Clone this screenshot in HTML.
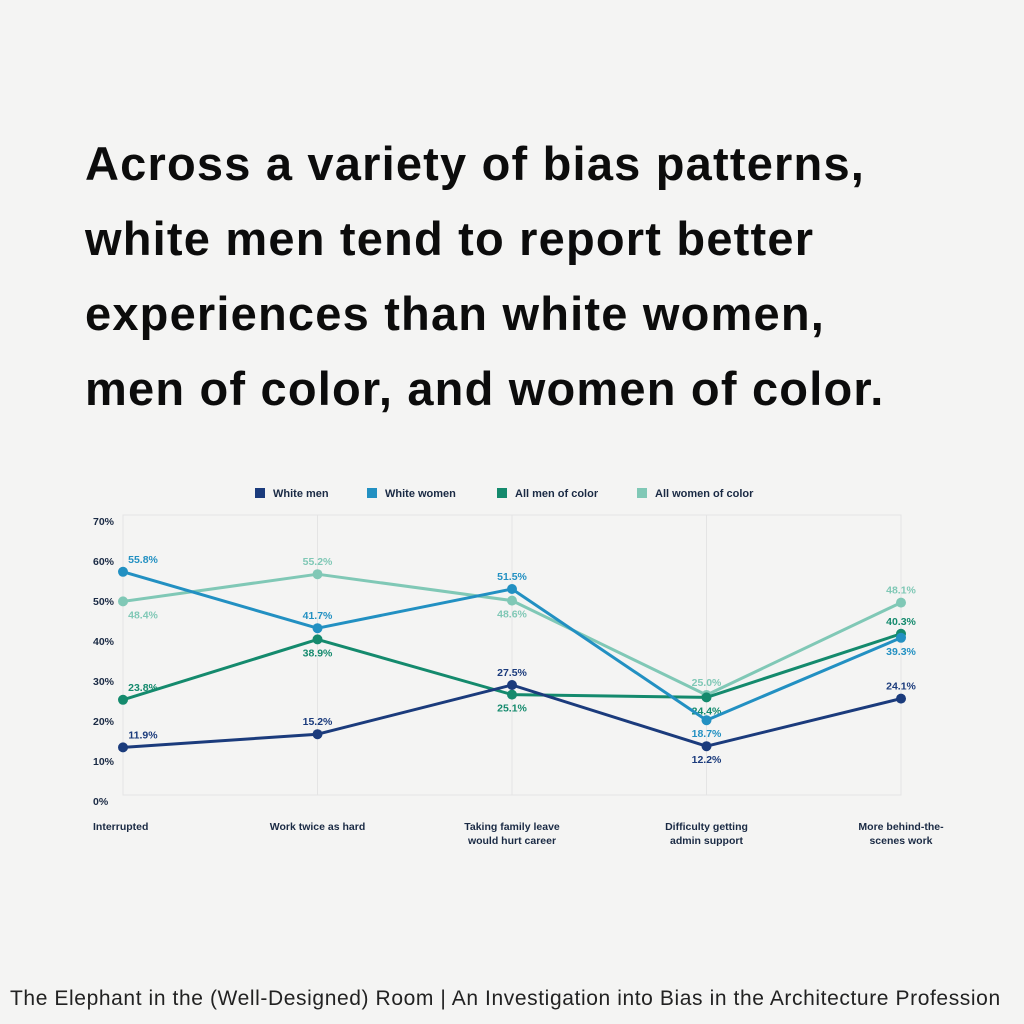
<!DOCTYPE html>
<html><head><meta charset="utf-8"><style>
body{margin:0;background:#f4f4f3;width:1024px;height:1024px;overflow:hidden;font-family:"Liberation Sans",sans-serif}
h1{position:absolute;left:85px;top:126px;margin:0;font-size:47px;line-height:75px;font-weight:bold;color:#0c0c0c;letter-spacing:1.2px}
.foot{position:absolute;left:10px;top:987px;font-size:21px;letter-spacing:0.6px;color:#222}
</style></head><body>
<h1>Across a variety of bias patterns,<br>white men tend to report better<br>experiences than white women,<br>men of color, and women of color.</h1>
<svg id="chart" width="1024" height="1024" style="position:absolute;left:0;top:0" font-family="Liberation Sans, sans-serif" font-weight="bold"></svg>
<div class="foot">The Elephant in the (Well-Designed) Room | An Investigation into Bias in the Architecture Profession</div>
<script>
const categories=[["Interrupted"],["Work twice as hard"],["Taking family leave","would hurt career"],["Difficulty getting","admin support"],["More behind-the-","scenes work"]];
const seriesNames=["White men","White women","All men of color","All women of color"];
const whiteMen=[11.9,15.2,27.5,12.2,24.1];
const whiteWomen=[55.8,41.7,51.5,18.7,39.3];
const menOfColor=[23.8,38.9,25.1,24.4,40.3];
const womenOfColor=[48.4,55.2,48.6,25.0,48.1];
const yTicks=[0,10,20,30,40,50,60,70];
const colors=["#1b3b7c","#2290c2","#148a6d","#80c8b6"];
const labelSide=[[-1,-1,-1,1,-1],[-1,-1,-1,1,1],[-1,1,1,1,-1],[1,-1,1,-1,-1]];
const svg=document.getElementById('chart');const NS="http://www.w3.org/2000/svg";
function el(t,a,p){const e=document.createElementNS(NS,t);for(const k in a)e.setAttribute(k,a[k]);(p||svg).appendChild(e);return e;}
const x0=123,x1=901,yB=795,yT=515;
const xs=i=>x0+i*(x1-x0)/(categories.length-1);
const ys=v=>yB-v*(yB-yT)/70;
const fr=el('rect',{x:x0,y:yT,width:x1-x0,height:yB-yT,fill:'none',stroke:'#e4e4e4'});


categories.forEach((c,i)=>{const g=el('line',{x1:xs(i),x2:xs(i),y1:yT,y2:yB,stroke:'#e4e4e4'});


const t=el('text',{x:i==0?x0-30:xs(i),y:830,'font-size':10.5,fill:'#1a2a44','text-anchor':i==0?'start':'middle'});


c.forEach((s,j)=>{const ts=el('tspan',{x:i==0?x0-30:xs(i),dy:j?14:0},t);ts.textContent=s;});});
yTicks.forEach(v=>{const t=el('text',{x:93,y:ys(v)+10,'font-size':10.5,fill:'#1a2a44'});


t.textContent=v+'%';});
const lx=[255,367,497,637];
seriesNames.forEach((n,i)=>{const r=el('rect',{x:lx[i],y:488,width:10,height:10,fill:colors[i]});


const t=el('text',{x:lx[i]+18,y:497,'font-size':11,fill:'#1a2a44'});


t.textContent=n;});
const data=[whiteMen,whiteWomen,menOfColor,womenOfColor];
const order=[3,2,1,0];
order.forEach(s=>{const d=data[s];
const pl=el('polyline',{points:d.map((v,i)=>xs(i)+','+ys(v)).join(' '),fill:'none',stroke:colors[s],'stroke-width':3,'stroke-linejoin':'round'});


d.forEach((v,i)=>{const c=el('circle',{cx:xs(i),cy:ys(v),r:5,fill:colors[s]});


const side=labelSide[s][i];
const t=el('text',{x:i==0?xs(i)+20:xs(i),y:ys(v)+(side<0?-9:17),'font-size':10.5,fill:colors[s],'text-anchor':'middle'});


t.textContent=v.toFixed(1)+'%';});});
</script>
</body></html>
